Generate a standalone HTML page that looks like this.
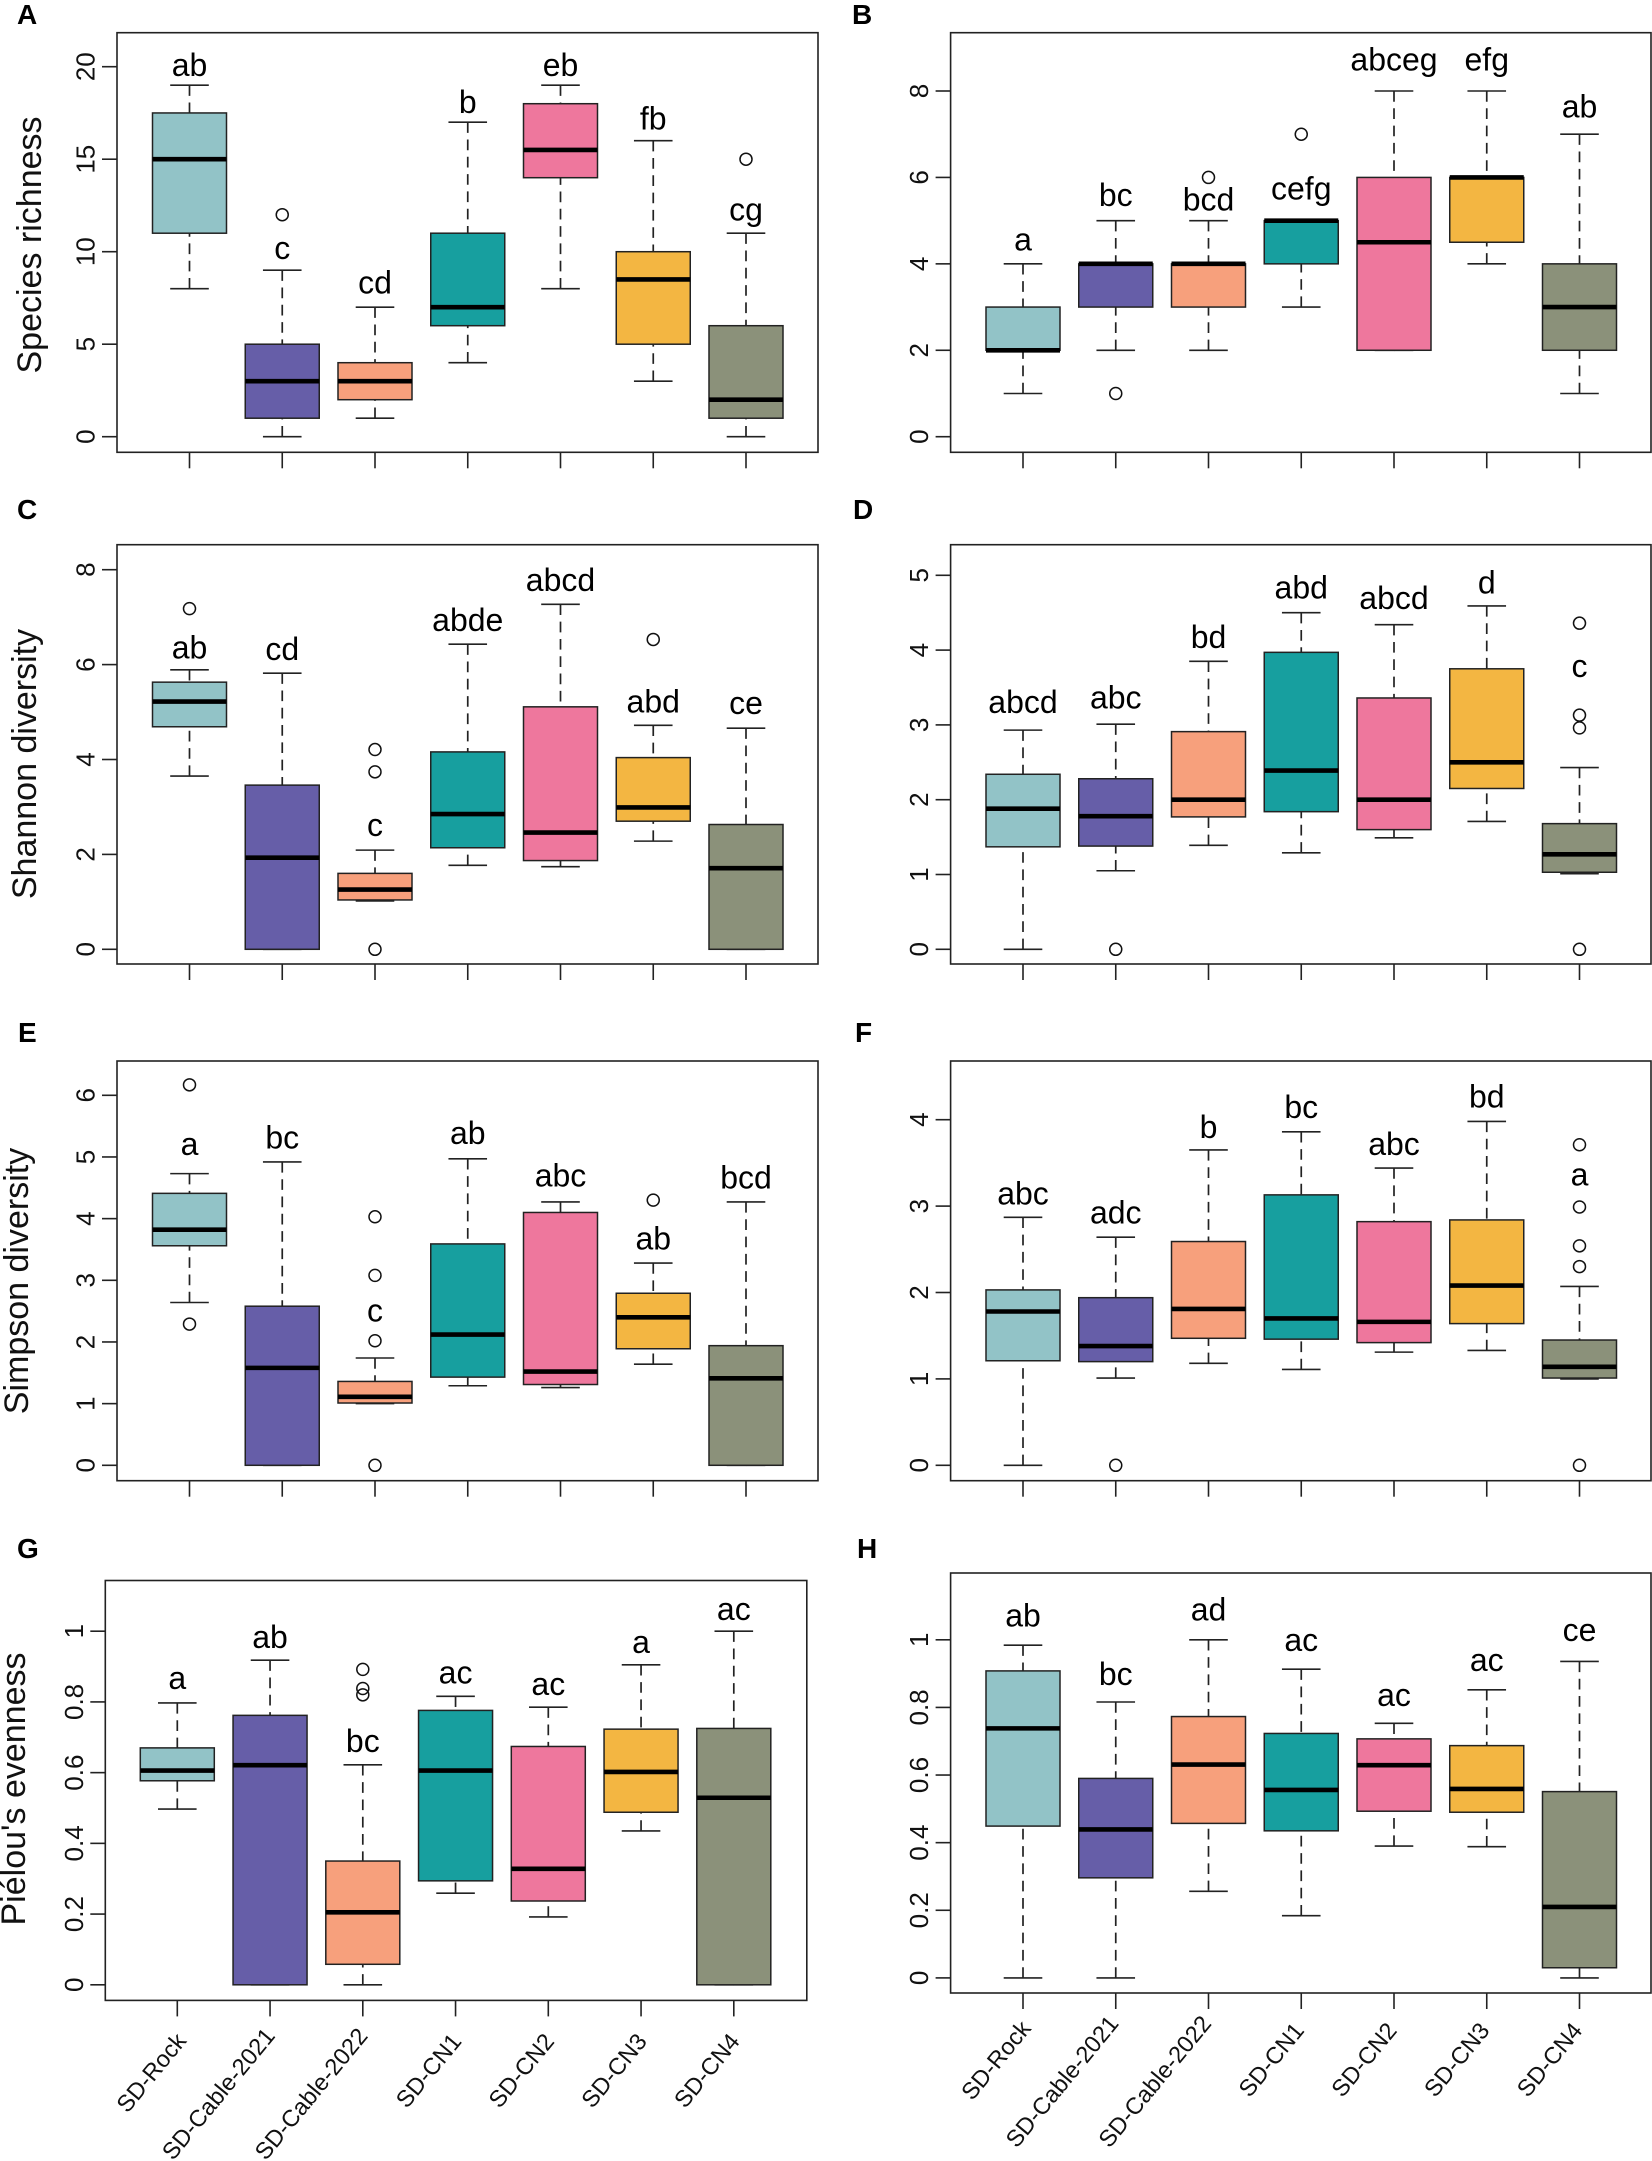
<!DOCTYPE html>
<html lang="en">
<head>
<meta charset="utf-8">
<title>Diversity boxplots</title>
<style>
html,body{margin:0;padding:0;background:#fff;width:1652px;height:2161px;overflow:hidden}
svg{display:block;font-family:"Liberation Sans",sans-serif}
.tag{font-size:28px;font-weight:bold;fill:#000}
.ylab{font-size:34px;fill:#111;text-anchor:middle}
</style>
</head>
<body>
<svg id="fig" xmlns="http://www.w3.org/2000/svg" width="1652" height="2161" viewBox="0 0 1652 2161">
  <rect x="0" y="0" width="1652" height="2161" fill="#fff"/>
  <text class="tag" x="17" y="24">A</text>
  <text class="tag" x="852" y="24">B</text>
  <text class="tag" x="17" y="519">C</text>
  <text class="tag" x="853" y="519">D</text>
  <text class="tag" x="18" y="1042">E</text>
  <text class="tag" x="855" y="1042">F</text>
  <text class="tag" x="17" y="1558">G</text>
  <text class="tag" x="857" y="1558">H</text>
  <text class="ylab" transform="translate(41 245) rotate(-90)">Species richness</text>
  <text class="ylab" transform="translate(36 764) rotate(-90)">Shannon diversity</text>
  <text class="ylab" transform="translate(28 1281) rotate(-90)">Simpson diversity</text>
  <text class="ylab" transform="translate(25 1789) rotate(-90)">Piélou's evenness</text>
</svg>
<script>
const categories = ["SD-Rock","SD-Cable-2021","SD-Cable-2022","SD-CN1","SD-CN2","SD-CN3","SD-CN4"];
const fills = ["#92C3C7","#665EA8","#F7A07C","#179F9F","#EE779D","#F3B642","#8B917A"];

const ticksA = [0,5,10,15,20];
const lowA  = [8,0,1,4,8,3,0];
const q1A   = [11,1,2,6,14,5,1];
const medA  = [15,3,3,7,15.5,8.5,2];
const q3A   = [17.5,5,4,11,18,10,6];
const highA = [19,9,7,17,19,16,11];
const outA  = [[],[12],[],[],[],[],[15]];
const sigA  = ["ab","c","cd","b","eb","fb","cg"];
const sigYA = [19.5,9.6,7.75,17.5,19.5,16.6,11.7];

const ticksB = [0,2,4,6,8];
const lowB  = [1,2,2,3,2,4,1];
const q1B   = [2,3,3,4,2,4.5,2];
const medB  = [2,4,4,5,4.5,6,3];
const q3B   = [3,4,4,5,6,6,4];
const highB = [4,5,5,5,8,8,7];
const outB  = [[],[1],[6],[7],[],[],[]];
const sigB  = ["a","bc","bcd","cefg","abceg","efg","ab"];
const sigYB = [4.31,5.34,5.23,5.49,8.47,8.47,7.39];

const ticksC = [0,2,4,6,8];
const lowC  = [3.65,0,1.02,1.77,1.74,2.28,0];
const q1C   = [4.69,0,1.04,2.14,1.87,2.7,0];
const medC  = [5.22,1.93,1.26,2.85,2.46,2.99,1.71];
const q3C   = [5.63,3.46,1.6,4.16,5.11,4.04,2.63];
const highC = [5.89,5.82,2.09,6.43,7.27,4.72,4.66];
const outC  = [[7.18],[],[0,3.74,4.21],[],[],[6.53],[]];
const sigC  = ["ab","cd","c","abde","abcd","abd","ce"];
const sigYC = [6.13,6.1,2.39,6.71,7.55,4.99,4.96];

const ticksD = [0,1,2,3,4,5];
const lowD  = [0,1.05,1.39,1.29,1.49,1.71,1.01];
const q1D   = [1.37,1.38,1.77,1.84,1.6,2.15,1.03];
const medD  = [1.88,1.78,2,2.39,2,2.5,1.27];
const q3D   = [2.34,2.28,2.91,3.97,3.36,3.75,1.68];
const highD = [2.93,3.01,3.85,4.5,4.34,4.59,2.43];
const outD  = [[],[0],[],[],[],[],[0,2.96,3.13,4.36]];
const sigD  = ["abcd","abc","bd","abd","abcd","d","c"];
const sigYD = [3.16,3.22,4.03,4.69,4.55,4.76,3.64];

const ticksE = [0,1,2,3,4,5,6];
const lowE  = [2.64,0,1,1.29,1.26,1.64,0];
const q1E   = [3.56,0,1.01,1.43,1.31,1.89,0];
const medE  = [3.82,1.58,1.11,2.12,1.52,2.4,1.41];
const q3E   = [4.41,2.58,1.36,3.59,4.1,2.79,1.94];
const highE = [4.73,4.92,1.74,4.97,4.27,3.28,4.27];
const outE  = [[2.29,6.17],[],[0,2.02,3.08,4.03],[],[],[4.3],[]];
const sigE  = ["a","bc","c","ab","abc","ab","bcd"];
const sigYE = [5.03,5.14,2.33,5.21,4.52,3.5,4.49];

const ticksF = [0,1,2,3,4];
const lowF  = [0,1.01,1.18,1.11,1.31,1.33,1];
const q1F   = [1.21,1.2,1.47,1.46,1.42,1.64,1.01];
const medF  = [1.78,1.38,1.81,1.7,1.66,2.08,1.14];
const q3F   = [2.03,1.94,2.59,3.13,2.82,2.84,1.45];
const highF = [2.87,2.64,3.65,3.86,3.44,3.98,2.07];
const outF  = [[],[0],[],[],[],[],[0,2.3,2.54,2.99,3.71]];
const sigF  = ["abc","adc","b","bc","abc","bd","a"];
const sigYF = [3.02,2.8,3.79,4.02,3.59,4.14,3.24];

const ticksG = [0,0.2,0.4,0.6,0.8,1];
const lowG  = [0.497,0,0,0.259,0.192,0.435,0];
const q1G   = [0.577,0,0.058,0.294,0.237,0.488,0];
const medG  = [0.606,0.621,0.205,0.606,0.328,0.602,0.529];
const q3G   = [0.67,0.762,0.35,0.776,0.674,0.723,0.725];
const highG = [0.797,0.918,0.622,0.816,0.785,0.905,1];
const outG  = [[],[],[0.82,0.838,0.892],[],[],[],[]];
const sigG  = ["a","ab","bc","ac","ac","a","ac"];
const sigYG = [0.836,0.953,0.658,0.852,0.82,0.938,1.032];

const ticksH = [0,0.2,0.4,0.6,0.8,1];
const lowH  = [0,0,0.256,0.184,0.39,0.388,0];
const q1H   = [0.449,0.296,0.457,0.435,0.493,0.49,0.03];
const medH  = [0.738,0.439,0.631,0.556,0.629,0.559,0.21];
const q3H   = [0.908,0.59,0.773,0.723,0.707,0.687,0.551];
const highH = [0.984,0.816,1,0.913,0.753,0.852,0.936];
const outH  = [[],[],[],[],[],[],[]];
const sigH  = ["ab","bc","ad","ac","ac","ac","ce"];
const sigYH = [1.04,0.866,1.057,0.967,0.804,0.907,0.996];

const NS = "http://www.w3.org/2000/svg";
const fig = document.getElementById("fig");
const INK = "#222";

function mk(parent, tag, attrs, text) {
  const el = document.createElementNS(NS, tag);
  for (const k in attrs) el.setAttribute(k, attrs[k]);
  if (text !== undefined) el.textContent = text;
  parent.appendChild(el);
  return el;
}

function labelOffset(name, panelId) {
  const g = panelId === "g";
  if (name.includes("Rock")) return g ? [10, 41] : [9, 36];
  if (name.includes("Cable")) return g ? [6, 36] : [4, 31];
  return g ? [7, 41.5] : [4, 38];
}

function drawPanel(p) {
  const g = mk(fig, "g", {});
  
  

  const y = v => p.y0 + (p.yRef - p.y0) * v / p.vRef;
  const x = i => p.x0 + i * 92.75;
  const halfBox = 37, halfCap = 19.3;

  const frame = mk(g, "rect", {x:p.l, y:p.t, width:p.r-p.l, height:p.b-p.t, fill:"none", stroke:INK, "stroke-width":1.6});
  
  

  p.ticks.forEach(t => {
    const tk = mk(g, "line", {x1:p.l-15, x2:p.l, y1:y(t), y2:y(t), stroke:INK, "stroke-width":1.6});
    
    
    const lb = mk(g, "text", {transform:`translate(${p.tickX} ${y(t)}) rotate(-90)`, "text-anchor":"middle", "font-size":26, fill:"#111"}, String(t));
    
    
  });

  categories.forEach((c, i) => {
    const cx = x(i);
    const tk = mk(g, "line", {x1:cx, x2:cx, y1:p.b, y2:p.b+16, stroke:INK, "stroke-width":1.6});
    
    
    if (p.labels) {
      const off = labelOffset(c, p.id);
      const lb = mk(g, "text", {transform:`translate(${cx+off[0]} ${p.b+off[1]}) rotate(-50.5)`, "text-anchor":"end", "font-size":23.5, fill:"#111"}, c);
      
      
    }

    const whiskLow = mk(g, "line", {x1:cx, x2:cx, y1:y(p.low[i]), y2:y(p.q1[i]), stroke:INK, "stroke-width":1.7, "stroke-dasharray":"10.7 6.6"});
    
    
    const whiskHigh = mk(g, "line", {x1:cx, x2:cx, y1:y(p.high[i]), y2:y(p.q3[i]), stroke:INK, "stroke-width":1.7, "stroke-dasharray":"10.7 6.6"});
    
    
    const capLow = mk(g, "line", {x1:cx-halfCap, x2:cx+halfCap, y1:y(p.low[i]), y2:y(p.low[i]), stroke:INK, "stroke-width":1.6});
    
    
    const capHigh = mk(g, "line", {x1:cx-halfCap, x2:cx+halfCap, y1:y(p.high[i]), y2:y(p.high[i]), stroke:INK, "stroke-width":1.6});
    
    

    const box = mk(g, "rect", {x:cx-halfBox, width:halfBox*2, y:y(p.q3[i]), height:y(p.q1[i])-y(p.q3[i]), fill:fills[i], stroke:"#222", "stroke-width":1.5});
    
    
    const med = mk(g, "line", {x1:cx-halfBox, x2:cx+halfBox, y1:y(p.med[i]), y2:y(p.med[i]), stroke:"#000", "stroke-width":4.6});
    
    

    p.out[i].forEach(v => {
      const o = mk(g, "circle", {cx:cx, cy:y(v), r:6, fill:"none", stroke:"#111", "stroke-width":1.5});
      
      
    });

    const s = mk(g, "text", {x:cx, y:y(p.sigY[i]), "text-anchor":"middle", "font-size":32, fill:"#000"}, p.sig[i]);
    
    
  });
}

const LEFT = {l:117, r:818, x0:189.5, tickX:94.5};
const RIGHT = {l:950.6, r:1651, x0:1023, tickX:928};

drawPanel({id:"a", ...LEFT, t:32.7, b:452.3, y0:436.7, yRef:66.7, vRef:20, ticks:ticksA, low:lowA, q1:q1A, med:medA, q3:q3A, high:highA, out:outA, sig:sigA, sigY:sigYA});
drawPanel({id:"b", ...RIGHT, t:32.7, b:452.3, y0:436.7, yRef:91, vRef:8, ticks:ticksB, low:lowB, q1:q1B, med:medB, q3:q3B, high:highB, out:outB, sig:sigB, sigY:sigYB});
drawPanel({id:"c", ...LEFT, t:544.7, b:964, y0:949.3, yRef:569.7, vRef:8, ticks:ticksC, low:lowC, q1:q1C, med:medC, q3:q3C, high:highC, out:outC, sig:sigC, sigY:sigYC});
drawPanel({id:"d", ...RIGHT, t:544.7, b:964, y0:949.3, yRef:575.3, vRef:5, ticks:ticksD, low:lowD, q1:q1D, med:medD, q3:q3D, high:highD, out:outD, sig:sigD, sigY:sigYD});
drawPanel({id:"e", ...LEFT, t:1061, b:1480.7, y0:1465.3, yRef:1095.3, vRef:6, ticks:ticksE, low:lowE, q1:q1E, med:medE, q3:q3E, high:highE, out:outE, sig:sigE, sigY:sigYE});
drawPanel({id:"f", ...RIGHT, t:1061, b:1480.7, y0:1465.3, yRef:1119.7, vRef:4, ticks:ticksF, low:lowF, q1:q1F, med:medF, q3:q3F, high:highF, out:outF, sig:sigF, sigY:sigYF});
drawPanel({id:"g", l:105.3, r:806.8, x0:177.3, tickX:83, t:1580.5, b:2000.4, y0:1984.8, yRef:1631.2, vRef:1, labels:true, ticks:ticksG, low:lowG, q1:q1G, med:medG, q3:q3G, high:highG, out:outG, sig:sigG, sigY:sigYG});
drawPanel({id:"h", ...RIGHT, labels:true, t:1573, b:1993, y0:1977.9, yRef:1639.8, vRef:1, ticks:ticksH, low:lowH, q1:q1H, med:medH, q3:q3H, high:highH, out:outH, sig:sigH, sigY:sigYH});
</script>
</body>
</html>
